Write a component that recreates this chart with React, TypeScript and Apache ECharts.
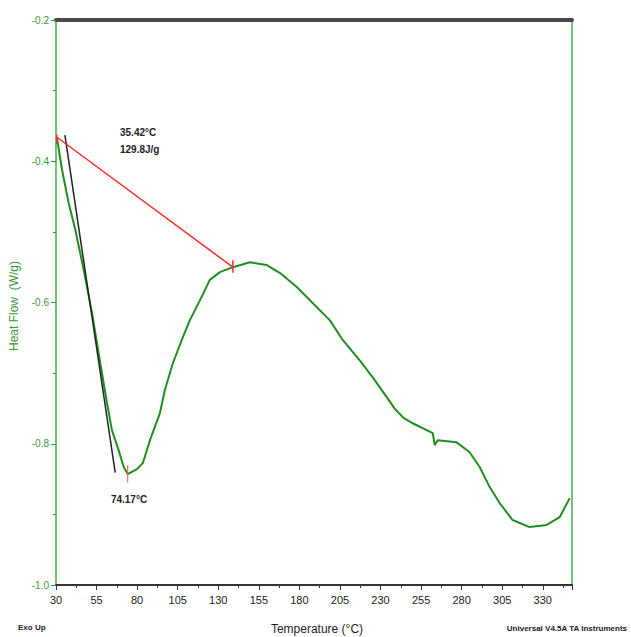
import React, { useEffect, useRef } from "react";
import * as echarts from "echarts";

// Thermogram (green curve)
const temperature = [
  30.6, 33.7, 37.8, 41.9, 47.1, 52.2, 57.3, 61.4, 64.5, 68.6, 71.7, 74.2, 79.9,
  83.6, 87.9, 94.0, 97.1, 102.0, 108.2, 112.5, 118.7, 124.8, 131.0, 139.0,
  149.5, 159.9, 167.9, 178.4, 188.3, 198.7, 206.7, 217.2, 225.2, 233.8, 238.6,
  244.0, 249.8, 262.2, 263.4, 265.2, 276.9, 284.9, 291.1, 297.2, 303.4, 311.4,
  321.9, 332.4, 340.4, 346.6,
];
const heatFlow = [
  -0.367, -0.412, -0.459, -0.497, -0.554, -0.615, -0.686, -0.742, -0.781, -0.809,
  -0.833, -0.843, -0.836, -0.827, -0.795, -0.757, -0.724, -0.686, -0.649, -0.625,
  -0.597, -0.568, -0.557, -0.55, -0.543, -0.547, -0.558, -0.578, -0.601, -0.625,
  -0.653, -0.682, -0.706, -0.734, -0.75, -0.763, -0.771, -0.785, -0.802, -0.795,
  -0.798, -0.812, -0.833, -0.861, -0.884, -0.908, -0.918, -0.915, -0.904, -0.877,
];

// Integration baseline (red) and onset tangent (black)
const baselineX = [30.6, 139.0];
const baselineY = [-0.366, -0.55];
const tangentX = [35.5, 66.5];
const tangentY = [-0.363, -0.841];
const peakMarkX = [74.2, 74.2];
const peakMarkY = [-0.83, -0.855];
const endMarkX = [139.0, 139.0];
const endMarkY = [-0.54, -0.558];
const startMarkX = [30.5, 30.5];
const startMarkY = [-0.362, -0.376];

const xMin = 30;
const xMax = 348;
const xStep = 25;
const yTicks = [-1.0, -0.8, -0.6, -0.4, -0.2];

const GREEN_AXIS = "#74c374";
const GREEN_TEXT = "#3a9a3a";
const GREEN_LINE = "#1f8f1f";
const FONT = "'Liberation Sans Narrow', 'Arial Narrow', 'Liberation Sans', sans-serif";

const pairs = (xs: number[], ys: number[]) => xs.map((x, i) => [x - xMin, ys[i]]);

export default function App() {
  const ref = useRef<HTMLDivElement>(null);
  useEffect(() => {
    if (!ref.current) return;
    const chart = echarts.init(ref.current, null, { renderer: "svg" });
    const lineSeries = (name: string, xs: number[], ys: number[], color: string, width: number, z = 2) => ({
      name,
      type: "line",
      data: pairs(xs, ys),
      showSymbol: false,
      symbol: "none",
      lineStyle: { color, width },
      z,
      silent: true,
    });
    chart.setOption({
      animation: false,
      backgroundColor: "#ffffff",
      grid: { left: 56, right: 59, top: 20, bottom: 52, containLabel: false },
      xAxis: [
        {
          type: "value",
          min: 0,
          max: xMax - xMin,
          interval: xStep,
          position: "bottom",
          axisLine: { show: true, onZero: false, lineStyle: { color: "#333333", width: 2 } },
          axisTick: { show: true, length: 5, lineStyle: { color: "#333333", width: 1 } },
          minorTick: { show: true, splitNumber: 2, length: 3, lineStyle: { color: "#333333", width: 1 } },
          axisLabel: {
            color: "#222222",
            fontSize: 11,
            fontFamily: FONT,
            margin: 9,
            formatter: (v: number) => (Math.abs(v % xStep) < 1e-6 ? String(Math.round(v + xMin)) : ""),
          },
          splitLine: { show: false },
        },
        {
          type: "value",
          min: 0,
          max: xMax - xMin,
          position: "top",
          axisLine: { show: true, onZero: false, lineStyle: { color: "#4a4a4a", width: 4 } },
          axisTick: { show: false },
          axisLabel: { show: false },
          splitLine: { show: false },
        },
      ],
      yAxis: [
        {
          type: "value",
          min: yTicks[0],
          max: yTicks[yTicks.length - 1],
          interval: 0.2,
          position: "left",
          axisLine: { show: true, onZero: false, lineStyle: { color: GREEN_AXIS, width: 2 } },
          axisTick: { show: true, length: 5, lineStyle: { color: GREEN_TEXT, width: 1 } },
          minorTick: { show: true, splitNumber: 2, length: 3, lineStyle: { color: GREEN_TEXT, width: 1 } },
          axisLabel: {
            color: GREEN_TEXT,
            fontSize: 10,
            fontFamily: FONT,
            margin: 7,
            formatter: (v: number) => v.toFixed(1),
          },
          splitLine: { show: false },
        },
        {
          type: "value",
          min: yTicks[0],
          max: yTicks[yTicks.length - 1],
          position: "right",
          axisLine: { show: true, onZero: false, lineStyle: { color: GREEN_AXIS, width: 2 } },
          axisTick: { show: false },
          axisLabel: { show: false },
          splitLine: { show: false },
        },
      ],
      series: [
        lineSeries("Heat Flow", temperature, heatFlow, GREEN_LINE, 2, 3),
        lineSeries("Tangent", tangentX, tangentY, "#222222", 1.5, 4),
        lineSeries("Baseline", baselineX, baselineY, "#ff2a2a", 1.5, 4),
        lineSeries("PeakMark", peakMarkX, peakMarkY, "#ff5050", 1, 4),
        lineSeries("EndMark", endMarkX, endMarkY, "#ff2a2a", 1.5, 5),
        lineSeries("StartMark", startMarkX, startMarkY, "#ff2a2a", 1.5, 5),
      ],
      graphic: [
        {
          type: "text",
          x: 14,
          y: 306,
          rotation: Math.PI / 2,
          style: {
            text: "Heat Flow  (W/g)",
            fill: GREEN_TEXT,
            font: `12px ${FONT}`,
            align: "center",
            verticalAlign: "middle",
          },
        },
        {
          type: "text",
          x: 317,
          y: 629,
          style: {
            text: "Temperature (°C)",
            fill: "#222222",
            font: `12px ${FONT}`,
            align: "center",
            verticalAlign: "middle",
          },
        },
        {
          type: "text",
          x: 18,
          y: 627,
          style: { text: "Exo Up", fill: "#222222", font: `bold 8px ${FONT}`, align: "left", verticalAlign: "middle" },
        },
        {
          type: "text",
          x: 627,
          y: 628,
          style: {
            text: "Universal V4.5A TA Instruments",
            fill: "#222222",
            font: `bold 8px ${FONT}`,
            align: "right",
            verticalAlign: "middle",
          },
        },
        {
          type: "text",
          x: 120,
          y: 132,
          style: { text: "35.42°C", fill: "#222222", font: `bold 10px ${FONT}`, align: "left", verticalAlign: "middle" },
        },
        {
          type: "text",
          x: 120,
          y: 149,
          style: { text: "129.8J/g", fill: "#222222", font: `bold 10px ${FONT}`, align: "left", verticalAlign: "middle" },
        },
        {
          type: "text",
          x: 129,
          y: 499,
          style: { text: "74.17°C", fill: "#222222", font: `bold 10px ${FONT}`, align: "center", verticalAlign: "middle" },
        },
      ],
    });
    return () => chart.dispose();
  }, []);
  return (
    <div
      ref={ref}
      style={{ position: "fixed", left: 0, top: 0, width: 631, height: 637, background: "#fff" }}
    />
  );
}
